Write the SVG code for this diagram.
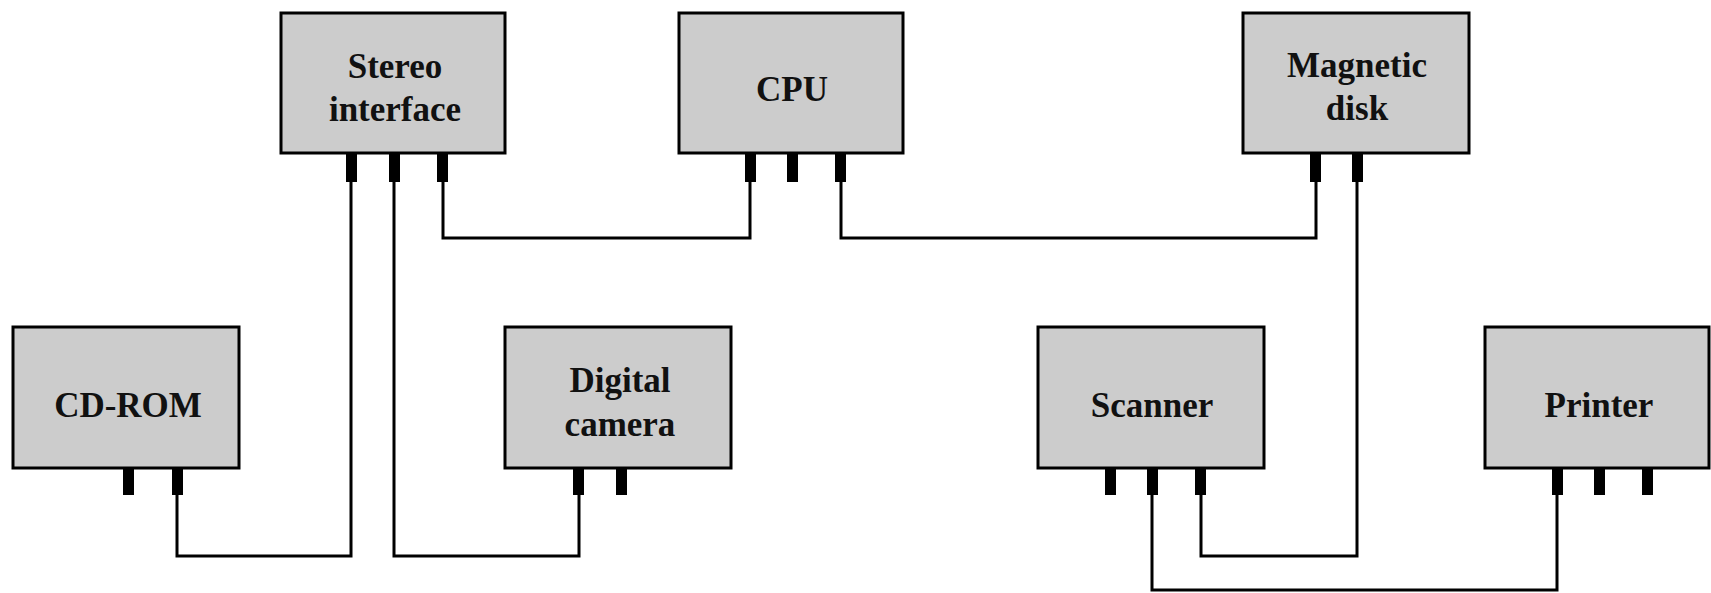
<svg xmlns="http://www.w3.org/2000/svg" width="1711" height="593" viewBox="0 0 1711 593">
<style>
.box{fill:#cccccc;stroke:#000;stroke-width:3}
.tab{fill:#000}
.lbl{font-family:"Liberation Serif","Times New Roman",serif;font-weight:bold;font-size:35px;fill:#111;text-anchor:middle}
.wire{fill:none;stroke:#000;stroke-width:3}
</style>
<rect width="1711" height="593" fill="#fff"/>
<g id="connectors">
<polyline class="wire" points="177,495 177,556 351,556 351,182"/>
<polyline class="wire" points="394,182 394,556 579,556 579,495"/>
<polyline class="wire" points="443,182 443,238 750,238 750,182"/>
<polyline class="wire" points="841,182 841,238 1316,238 1316,182"/>
<polyline class="wire" points="1357,182 1357,556 1201,556 1201,495"/>
<polyline class="wire" points="1152,495 1152,590 1557,590 1557,495"/>
</g>
<g id="stereo">
<rect class="box" x="281" y="13" width="224" height="140"/>
<rect class="tab" x="346" y="153" width="11" height="29"/>
<rect class="tab" x="389" y="153" width="11" height="29"/>
<rect class="tab" x="437" y="153" width="11" height="29"/>
<text class="lbl" x="395" y="78">Stereo</text>
<text class="lbl" x="395" y="121">interface</text>
</g>
<g id="cpu">
<rect class="box" x="679" y="13" width="224" height="140"/>
<rect class="tab" x="745" y="153" width="11" height="29"/>
<rect class="tab" x="787" y="153" width="11" height="29"/>
<rect class="tab" x="835" y="153" width="11" height="29"/>
<text class="lbl" x="792" y="101">CPU</text>
</g>
<g id="disk">
<rect class="box" x="1243" y="13" width="226" height="140"/>
<rect class="tab" x="1310" y="153" width="11" height="29"/>
<rect class="tab" x="1352" y="153" width="11" height="29"/>
<text class="lbl" x="1357" y="77">Magnetic</text>
<text class="lbl" x="1357" y="120">disk</text>
</g>
<g id="cdrom">
<rect class="box" x="13" y="327" width="226" height="141"/>
<rect class="tab" x="123" y="468" width="11" height="27"/>
<rect class="tab" x="172" y="468" width="11" height="27"/>
<text class="lbl" x="128" y="417">CD-ROM</text>
</g>
<g id="camera">
<rect class="box" x="505" y="327" width="226" height="141"/>
<rect class="tab" x="573" y="468" width="11" height="27"/>
<rect class="tab" x="616" y="468" width="11" height="27"/>
<text class="lbl" x="620" y="392">Digital</text>
<text class="lbl" x="620" y="436">camera</text>
</g>
<g id="scanner">
<rect class="box" x="1038" y="327" width="226" height="141"/>
<rect class="tab" x="1105" y="468" width="11" height="27"/>
<rect class="tab" x="1147" y="468" width="11" height="27"/>
<rect class="tab" x="1195" y="468" width="11" height="27"/>
<text class="lbl" x="1152" y="417">Scanner</text>
</g>
<g id="printer">
<rect class="box" x="1485" y="327" width="224" height="141"/>
<rect class="tab" x="1552" y="468" width="11" height="27"/>
<rect class="tab" x="1594" y="468" width="11" height="27"/>
<rect class="tab" x="1642" y="468" width="11" height="27"/>
<text class="lbl" x="1599" y="417">Printer</text>
</g>
</svg>
